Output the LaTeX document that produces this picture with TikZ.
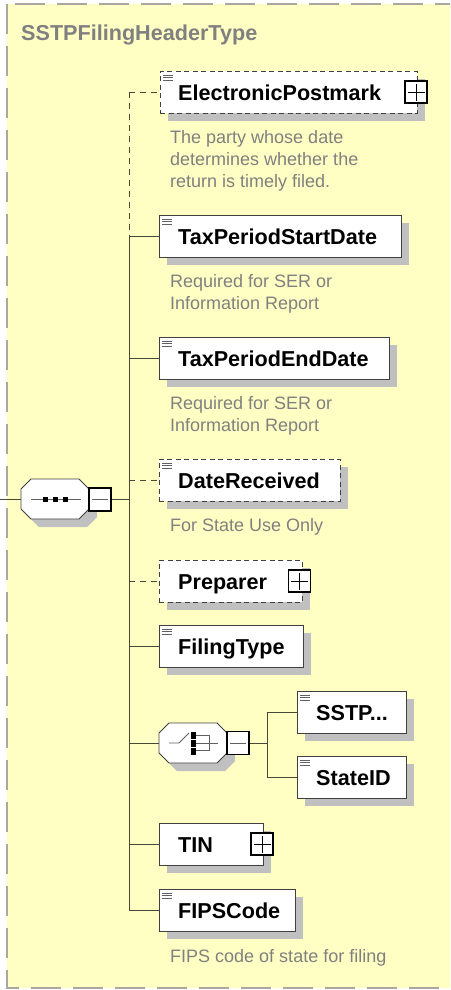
\documentclass[tikz,border=0pt]{standalone}
\usepackage{fontspec}
\setmainfont{Liberation Sans}
\usetikzlibrary{shadows,calc}
\definecolor{bgyellow}{RGB}{255,255,196}
\definecolor{shadowc}{RGB}{192,192,192}
\definecolor{txtgray}{RGB}{128,128,128}
\definecolor{linec}{RGB}{72,72,56}
\definecolor{borderc}{RGB}{168,168,160}
\definecolor{boxline}{RGB}{64,64,64}
\definecolor{iconc}{RGB}{96,96,96}
\newcommand\myoct[2]{($(#1)+(-34+#2,-10+#2)$) -- ($(#1)+(-24+#2,-20+#2)$) -- ($(#1)+(24+#2,-20+#2)$) -- ($(#1)+(34+#2,-10+#2)$) -- ($(#1)+(34+#2,10+#2)$) -- ($(#1)+(24+#2,20+#2)$) -- ($(#1)+(-24+#2,20+#2)$) -- ($(#1)+(-34+#2,10+#2)$) -- cycle}
\tikzset{
  shad/.style={drop shadow={shadow xshift=8pt,shadow yshift=-8pt,fill=shadowc,opacity=1}},
  box/.style={shad,draw=boxline,fill=white,line width=0.8pt,inner sep=0pt,anchor=north west,minimum height=42pt},
  optbox/.style={box,dash pattern=on 5pt off 3.5pt},
  lbl/.style={font=\fontsize{21.6}{26}\selectfont\bfseries,inner sep=0pt,anchor=base west},
  desc/.style={font=\fontsize{18}{22}\selectfont,text=txtgray,inner sep=0pt,anchor=base west,align=left},
  octnode/.style={minimum width=68pt,minimum height=40pt,inner sep=0pt},
  octline/.style={draw=boxline,fill=white,line width=0.8pt},
  pmbox/.style={draw=black,fill=white,line width=1.2pt,minimum width=22pt,minimum height=22pt,inner sep=0pt},
  plusbox/.style={pmbox,path picture={
    \draw[line width=0.6pt] ([xshift=2.5pt]path picture bounding box.west) -- ([xshift=-2.5pt]path picture bounding box.east);
    \draw[line width=0.6pt] ([yshift=-2.5pt]path picture bounding box.north) -- ([yshift=2.5pt]path picture bounding box.south);}},
  minusbox/.style={pmbox,path picture={
    \draw[line width=0.6pt,iconc] ([xshift=3pt]path picture bounding box.west) -- ([xshift=-3pt]path picture bounding box.east);}},
  conn/.style={draw=linec,line width=0.9pt},
  optconn/.style={conn,dash pattern=on 6pt off 5pt},
  innerline/.style={draw=iconc,line width=0.9pt},
  iconline/.style={draw=iconc,line width=0.7pt},
}
\begin{document}
\begin{tikzpicture}[x=1pt,y=-1pt]
\useasboundingbox (0,0) rectangle (450,990);
\clip (0,0) rectangle (450,990);
\fill[white] (0,0) rectangle (450,990);
\draw[fill=bgyellow,draw=borderc,line width=1.5pt,dash pattern=on 30pt off 12pt] (7,4) rectangle (470,988);
\node[lbl,text=txtgray] (title) at (21,40.5) {SSTPFilingHeaderType};

% element boxes
\node[optbox,minimum width=257pt] (ep) at (160,71) {};
\node[box,minimum width=242pt] (tps) at (159,215) {};
\node[box,minimum width=230pt] (tpe) at (159,337) {};
\node[optbox,minimum width=181pt] (dr) at (159,459) {};
\node[optbox,minimum width=143pt] (prep) at (159,560) {};
\node[box,minimum width=144pt] (ft) at (159,625) {};
\node[box,minimum width=109pt] (sstp) at (297,691) {};
\node[box,minimum width=109pt] (sid) at (297,756) {};
\node[box,minimum width=104pt] (tin) at (159,823) {};
\node[box,minimum width=136pt] (fips) at (159,889) {};

% labels
\node[lbl] (epl) at ($(ep.west)+(18,8)$) {ElectronicPostmark};
\node[lbl] (tpsl) at ($(tps.west)+(19,8)$) {TaxPeriodStartDate};
\node[lbl] (tpel) at ($(tpe.west)+(19,8)$) {TaxPeriodEndDate};
\node[lbl] (drl) at ($(dr.west)+(19,8)$) {DateReceived};
\node[lbl] (prepl) at ($(prep.west)+(19,8)$) {Preparer};
\node[lbl] (ftl) at ($(ft.west)+(19,8)$) {FilingType};
\node[lbl] (sstpl) at ($(sstp.west)+(19,8)$) {SSTP...};
\node[lbl] (sidl) at ($(sid.west)+(19,8)$) {StateID};
\node[lbl] (tinl) at ($(tin.west)+(19,8)$) {TIN};
\node[lbl] (fipsl) at ($(fips.west)+(19,8)$) {FIPSCode};

% icons
\foreach \n in {ep,tps,tpe,dr,ft,sstp,sid,fips}
  \foreach \dy in {4,6.5,9}
    \draw[iconline] ($(\n.north west)+(3,\dy)$) -- ++(10,0);

% plus boxes
\node[plusbox] (epp) at (416,92) {};
\node[plusbox] (prepp) at (299.5,581) {};
\node[plusbox] (tinp) at (262,844) {};

% descriptions (anchor = baseline of last line)
\node[desc] (epd) at (170,187) {The party whose date\\determines whether the\\return is timely filed.};
\node[desc] (tpsd) at (170,309) {Required for SER or\\Information Report};
\node[desc] (tped) at (170,431) {Required for SER or\\Information Report};
\node[desc] (drd) at (170,531) {For State Use Only};
\node[desc] (fipsd) at (170,962) {FIPS code of state for filing};

% sequence compositor
\node[octnode] (seq) at (55,499) {};
\fill[shadowc] \myoct{seq.center}{8};
\path[octline] \myoct{seq.center}{0};
\node[minusbox,minimum height=23pt] (seqm) at (100,499.5) {};
\draw[innerline] ($(seq.center)+(-24,0)$) -- ($(seq.center)+(26,0)$);
\foreach \dx in {-10,0,10}
  \fill[black] ($(seq.center)+(\dx-2.5,-2.5)$) rectangle ++(5.5,5.5);

% choice compositor
\node[octnode] (ch) at (193,743) {};
\fill[shadowc] \myoct{ch.center}{8};
\path[octline] \myoct{ch.center}{0};
\node[minusbox,minimum height=23pt] (chm) at (238,743) {};
\draw[innerline] ($(ch.center)+(-24,0)$) -- ($(ch.center)+(-14,0)$) -- ($(ch.center)+(-4,-10)$);
\foreach \dy in {-8,0,8}
  \fill[black] ($(ch.center)+(-2,\dy-3.5)$) rectangle ++(5,7);
\draw[innerline] ($(ch.center)+(3,-7.5)$) -- ++(13,0) -- ++(0,15) -- ++(-13,0);
\draw[innerline] ($(ch.center)+(3,0)$) -- ($(ch.center)+(25,0)$);

% connectors
\coordinate (sp) at (129,0);
\coordinate (cp) at (267,0);
\coordinate (in) at (0,499);
\draw[conn] (in) -- (seq.west);
\draw[conn] (seqm.east) -- (seqm.east -| sp);
\draw[optconn] (ep.west -| sp) -- (tps.west -| sp);
\draw[conn] (tps.west -| sp) -- (fips.west -| sp);
\draw[optconn] (ep.west -| sp) -- (ep.west);
\draw[conn] (tps.west -| sp) -- (tps.west);
\draw[conn] (tpe.west -| sp) -- (tpe.west);
\draw[optconn] (dr.west -| sp) -- (dr.west);
\draw[optconn] (prep.west -| sp) -- (prep.west);
\draw[conn] (ft.west -| sp) -- (ft.west);
\draw[conn] (ch.west -| sp) -- (ch.west);
\draw[conn] (tin.west -| sp) -- (tin.west);
\draw[conn] (fips.west -| sp) -- (fips.west);
\draw[conn] (chm.east) -- (chm.east -| cp);
\draw[conn] (sstp.west -| cp) -- (sid.west -| cp);
\draw[conn] (sstp.west -| cp) -- (sstp.west);
\draw[conn] (sid.west -| cp) -- (sid.west);
\end{tikzpicture}
\end{document}
